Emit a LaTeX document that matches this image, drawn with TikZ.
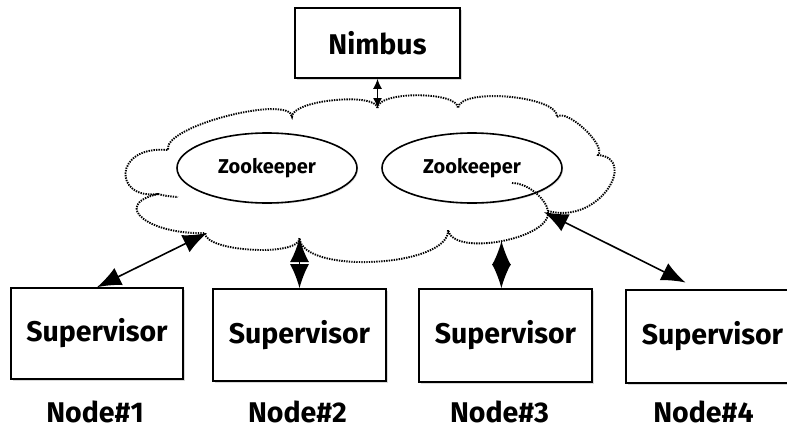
\documentclass[tikz,border=0pt]{standalone}
\usepackage{fontspec}
\setmainfont{Fira Sans}
\usetikzlibrary{shapes.geometric}
\usetikzlibrary{arrows.meta}
\usetikzlibrary{shadows}

\begin{document}
\begin{tikzpicture}[x=1pt,y=1pt,
	supbox/.style={draw,rectangle,line width=1.6pt,fill=white,inner sep=0pt,
		drop shadow={shadow xshift=1.5pt,shadow yshift=-1.5pt,opacity=0.3},
		font=\fontsize{28.5}{30}\selectfont\bfseries},
	zoo/.style={draw,ellipse,line width=1.6pt,fill=white,inner sep=0pt,
		minimum width=180pt,minimum height=70pt,
		drop shadow={shadow xshift=1.2pt,shadow yshift=-1.2pt,opacity=0.25},
		font=\fontsize{20}{22}\selectfont\bfseries},
	nodename/.style={font=\fontsize{28.5}{30}\selectfont\bfseries},
	puff/.style={line width=1.9pt,dash pattern=on 1.4pt off 1.1pt},
	link/.style={line width=1.6pt,{Latex[length=24pt,width=19pt]}-{Latex[length=24pt,width=19pt]}},
	smalllink/.style={line width=1.5pt,{Latex[length=10pt,width=9pt]}-{Latex[length=10pt,width=9pt]}}]
	\useasboundingbox (0,0) rectangle (787,-429);
	\clip (0,0) rectangle (787,-429);
	%
	\coordinate (c0) at (377.5,-108);
	\coordinate (c1) at (207,-233);
	\coordinate (c2) at (299.5,-238);
	\coordinate (c3) at (501.5,-241);
	\coordinate (c4) at (544,-212);
	% cloud
	\draw[puff] (c0)
		.. controls (377,-91) and (458,-91) .. (458,-108)
		.. controls (460,-87) and (559,-96) .. (557,-117)
		.. controls (566,-107.5) and (607,-145.5) .. (598,-155)
		.. controls (638,-158) and (600,-225) .. (548,-211)
		.. controls (553,-238.5) and (453,-257.5) .. (448,-230)
		.. controls (450,-267) and (302,-275) .. (c2)
		.. controls (300,-257) and (205,-252) .. (205,-233)
		.. controls (150,-235) and (110,-205) .. (158,-194)
		.. controls (113,-200) and (113,-145) .. (168,-150)
		.. controls (162,-126) and (291,-94) .. (292,-117)
		.. controls (291,-100) and (376,-92) .. (c0);
	\draw[puff] (158,-194) .. controls (166,-196) .. (178,-197);
	%
	\node[supbox,minimum width=165pt,minimum height=70pt] (nimbus) at (377.5,-43) {Nimbus};
	\node[zoo] (zk1) at (267,-168) {Zookeeper};
	\node[zoo] (zk2) at (472,-168) {Zookeeper};
	\draw[puff] (512,-183) .. controls (528,-183) and (546,-199) .. (548,-211);
	%
	\node[supbox,minimum width=172pt,minimum height=91pt] (sup1) at (97,-333.5) {Supervisor};
	\node[supbox,minimum width=173pt,minimum height=92pt] (sup2) at (299.5,-335) {Supervisor};
	\node[supbox,minimum width=173pt,minimum height=93pt] (sup3) at (505.5,-335.5) {Supervisor};
	\node[supbox,minimum width=173pt,minimum height=93pt] (sup4) at (712.5,-336.5) {Supervisor};
	%
	\node[nodename] (n1) at (95,-412) {Node\#1};
	\node[nodename] (n2) at (297.5,-412) {Node\#2};
	\node[nodename] (n3) at (499.5,-412) {Node\#3};
	\node[nodename] (n4) at (703.5,-412) {Node\#4};
	%
	\draw[smalllink] (nimbus.south) -- (c0);
	\draw[link] (sup1.north) -- (c1);
	\draw[link] (sup2.north) -- (c2);
	\draw[link] (sup3.95) -- (c3);
	\draw[link,shorten <=15pt] (sup4.106) -- (c4);
\end{tikzpicture}
\end{document}
